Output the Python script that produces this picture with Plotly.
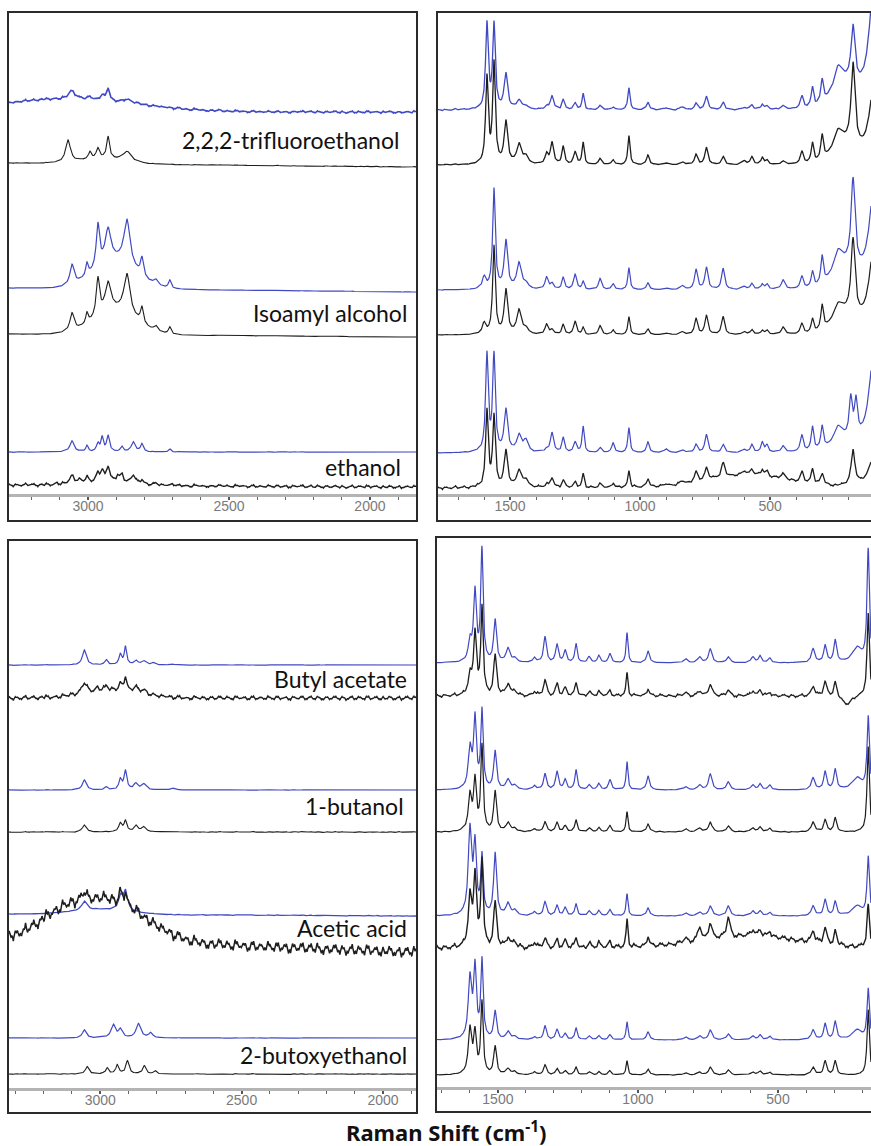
import numpy as np
import plotly.graph_objects as go

FIG_W, FIG_H = 871, 1146
BLUE = "#4149c2"
BLACK = "#1e1e1e"

# ---------------- axis ticks ----------------
LEFT_TICKS = [3000, 2500, 2000]
RIGHT_TICKS = [1500, 1000, 500]

# ---------------- x ranges (Raman shift, cm-1, drawn high -> low) ----------------
TL_RANGE = [3284, 1833]
TR_RANGE = [1781, 112]
BL_RANGE = [3326, 1880]
BR_RANGE = [1721, 168]

# ---------------- sample labels ----------------
TL_LABELS = ["2,2,2-trifluoroethanol", "Isoamyl alcohol", "ethanol"]
BL_LABELS = ["Butyl acetate", "1-butanol", "Acetic acid", "2-butoxyethanol"]

# hand-typed detector-noise texture (relative spike heights, read as "fuzz" on noisy traces)
NOISE_H = [0.6, -1.0, 0.4, -0.6, 1.0, -0.3, 0.8, -0.9, 0.5, 1.0, -0.7, 0.3, -0.8, 0.9, -0.4,
           0.7, -1.0, 0.6, -0.3, 0.9, -0.8, 0.5, -0.6, 1.0, -0.3, 0.7, -0.9, 0.6, -1.0, 0.4,
           -0.5, 0.9, -0.6, 0.3, -0.8, 0.8, -0.4, 0.6, -0.3, 0.5, -0.9, 0.7, -0.5, 0.3, -0.7,
           0.9, -0.3, 0.5, -0.7, 0.4, -0.6, 0.8, -0.4, 0.6, -0.5, 0.8, -0.3, 0.4, -0.8, 0.6,
           -0.6, 0.4, -0.5, 0.8, -0.4, 0.6, -0.6, 0.4, -0.8, 0.6, -0.4, 0.6, -0.6, 0.4, -0.4,
           0.8, -0.6, 0.4, -0.6, 0.6, -0.4, 0.6, -0.8, 0.4, -0.6, 0.6, -0.4, 0.8, -0.6, 0.4,
           -0.6, 0.6, -0.4, 0.4, -0.6, 0.6, -0.4, 0.6, -0.6, 0.4]

# =============== LEFT TOP (C-H stretch region) ===============
# peaks: (shift, height, half-width) ; bands: broad gaussian (shift, height, sigma)
# base: (level at high-shift end, level at low-shift end), stacked offset units
TFE_L_BLUE_BASE = (382, 382)
TFE_L_BLUE_PEAKS = [(3057, 8, 14), (2993, 3, 8), (2950, 5, 8), (2929, 12, 6), (2862, 4, 20)]
TFE_L_BLUE_BANDS = [(3080, 13, 250)]
TFE_L_BLACK_BASE = (331, 327)
TFE_L_BLACK_PEAKS = [(3071, 22, 10), (2993, 7, 6), (2965, 10, 7), (2929, 22, 6), (2862, 10, 18)]
TFE_L_BLACK_BANDS = [(2950, 5, 80)]

ISO_L_BLUE_BASE = (206, 202)
ISO_L_BLUE_PEAKS = [(3057, 20, 9), (3004, 12, 5), (2965, 42, 7), (2929, 32, 12), (2862, 45, 13),
                    (2809, 18, 6), (2759, 5, 8), (2710, 8, 6)]
ISO_L_BLUE_BANDS = [(2905, 28, 75)]
ISO_L_BLACK_BASE = (160, 157)
ISO_L_BLACK_PEAKS = [(3057, 18, 9), (3004, 10, 5), (2965, 37, 7), (2929, 28, 12), (2862, 40, 13),
                     (2809, 16, 6), (2759, 5, 8), (2710, 7, 6)]
ISO_L_BLACK_BANDS = [(2905, 24, 75)]

ETH_L_BLUE_BASE = (42, 42)
ETH_L_BLUE_PEAKS = [(3057, 11, 9), (3004, 6, 5), (2965, 8, 6), (2950, 14, 5), (2929, 16, 6),
                    (2880, 5, 6), (2840, 10, 8), (2809, 8, 6), (2710, 3, 5)]
ETH_L_BLUE_BANDS = []
ETH_L_BLACK_BASE = (9, 7)
ETH_L_BLACK_PEAKS = [(3110, 2, 6), (3057, 8, 10), (3030, 3, 6), (3004, 5, 6), (2965, 8, 7),
                     (2950, 10, 6), (2929, 14, 7), (2895, 6, 6), (2880, 7, 6), (2840, 8, 8),
                     (2809, 4, 6), (2760, 2, 6), (2700, 2, 6)]
ETH_L_BLACK_BANDS = [(2930, 4, 90)]

# =============== RIGHT TOP (fingerprint region) ===============
TR_POS = [1600, 1589, 1562, 1516, 1466, 1440, 1360, 1339, 1296, 1250, 1219, 1154, 1104, 1043,
          970, 900, 838, 785, 745, 681, 600, 570, 530, 512, 450, 378, 337, 300, 239, 190,
          181, 170, 95]
TR_WID = [8, 6, 6, 8, 10, 10, 7, 7, 6, 7, 5, 7, 6, 5,
          6, 8, 8, 7, 7, 7, 8, 6, 6, 6, 8, 7, 6, 6, 18, 7,
          9, 7, 25]
TFE_R_BLUE_H = [0, 85, 84, 35, 9, 4, 3, 14, 10, 6, 16, 4, 3, 22,
                8, 2, 3, 6, 13, 7, 2, 5, 5, 3, 3, 12, 20, 24, 20, 0,
                56, 0, 147]
TFE_R_BLACK_H = [0, 86, 100, 42, 20, 8, 10, 22, 18, 12, 22, 6, 5, 29,
                 10, 2, 3, 10, 17, 8, 4, 8, 7, 4, 3, 12, 20, 25, 16, 0,
                 81, 0, 91]
ISO_R_BLUE_H = [12, 0, 100, 48, 26, 6, 12, 6, 12, 15, 8, 11, 6, 22,
                7, 2, 4, 20, 22, 21, 3, 6, 5, 5, 9, 12, 16, 28, 18, 0,
                87, 0, 118]
ISO_R_BLACK_H = [11, 0, 88, 44, 24, 6, 10, 5, 10, 13, 7, 9, 5, 18,
                 6, 2, 3, 16, 19, 18, 3, 5, 4, 4, 7, 10, 14, 25, 12, 0,
                 75, 0, 103]
ETH_R_BLUE_H = [0, 97, 96, 42, 17, 12, 3, 20, 15, 10, 26, 5, 10, 25,
                11, 4, 3, 8, 18, 8, 3, 8, 10, 7, 6, 16, 24, 23, 15, 38,
                0, 36, 118]
ETH_R_BLACK_H = [0, 76, 70, 36, 17, 8, 3, 10, 8, 5, 14, 4, 5, 17,
                 9, 2, 3, 10, 12, 14, 4, 6, 6, 5, 5, 10, 15, 12, 0, 0,
                 35, 0, 37]
TFE_R_BLUE_BASE = (384, 384)
TFE_R_BLACK_BASE = (329, 329)
ISO_R_BLUE_BASE = (204, 204)
ISO_R_BLACK_BASE = (159, 159)
ETH_R_BLUE_BASE = (41, 41)
ETH_R_BLACK_BASE = (6, 6)
TFE_R_BLUE_BANDS = [(215, 22, 45)]
TFE_R_BLACK_BANDS = [(215, 18, 45)]
ISO_R_BLUE_BANDS = [(215, 20, 45)]
ISO_R_BLACK_BANDS = [(215, 18, 45)]
ETH_R_BLUE_BANDS = [(215, 9, 45)]
ETH_R_BLACK_BANDS = [(590, 13, 160)]

# =============== LEFT BOTTOM ===============
BUA_L_BLUE_BASE = (423, 423)
BUA_L_BLUE_PEAKS = [(3056, 15, 8), (2978, 5, 6), (2929, 10, 6), (2911, 18, 5), (2875, 4, 8),
                    (2847, 4, 10), (2812, 2, 8), (2744, 1, 8)]
BUA_L_BLUE_BANDS = []
BUA_L_BLACK_BASE = (390, 390)
BUA_L_BLACK_PEAKS = [(3056, 10, 10), (3010, 3, 6), (2978, 4, 6), (2929, 6, 6),
                     (2911, 14, 6), (2875, 5, 8), (2847, 4, 10)]
BUA_L_BLACK_BANDS = [(2960, 8, 100)]

BUT_L_BLUE_BASE = (298, 298)
BUT_L_BLUE_PEAKS = [(3056, 10, 8), (2978, 3, 6), (2929, 10, 6), (2911, 19, 6), (2875, 6, 8),
                    (2847, 6, 10), (2744, 2, 8)]
BUT_L_BLUE_BANDS = []
BUT_L_BLACK_BASE = (256, 256)
BUT_L_BLACK_PEAKS = [(3056, 7, 8), (2929, 8, 7), (2911, 11, 6), (2875, 6, 8), (2847, 5, 10)]
BUT_L_BLACK_BANDS = []

ACE_L_BLUE_BASE = (174, 172)
ACE_L_BLUE_PEAKS = [(3056, 9, 10), (2929, 13, 8), (2911, 20, 9)]
ACE_L_BLUE_BANDS = [(3000, 5, 100)]
ACE_L_BLACK_BASE = (150, 136)
ACE_L_BLACK_PEAKS = [(3056, 8, 8), (2929, 10, 6), (2911, 14, 7)]
ACE_L_BLACK_BANDS = [(2985, 42, 140), (3150, 10, 70)]

BOE_L_BLUE_BASE = (50, 50)
BOE_L_BLUE_PEAKS = [(3056, 8, 8), (2954, 13, 9), (2929, 8, 8), (2865, 14, 10), (2822, 5, 8)]
BOE_L_BLUE_BANDS = []
BOE_L_BLACK_BASE = (14, 14)
BOE_L_BLACK_PEAKS = [(3046, 7, 8), (2975, 6, 6), (2940, 9, 6), (2904, 13, 7), (2844, 8, 7),
                     (2805, 3, 6)]
BOE_L_BLACK_BANDS = []

# =============== RIGHT BOTTOM ===============
BR_POS = [1600, 1582, 1557, 1510, 1464, 1440, 1370, 1332, 1289, 1260, 1221, 1175, 1140, 1100,
          1039, 964, 830, 780, 742, 678, 590, 564, 530, 375, 332, 296, 218, 178]
BR_WID = [7, 6, 5, 6, 8, 8, 6, 6, 6, 6, 5, 6, 6, 6,
          4, 6, 8, 7, 7, 7, 7, 6, 6, 7, 6, 6, 20, 5]
BUA_R_BLUE_H = [20, 70, 112, 42, 14, 4, 5, 26, 18, 12, 19, 6, 7, 9,
                30, 12, 4, 6, 14, 6, 6, 7, 5, 14, 17, 22, 15, 112]
BUA_R_BLACK_H = [20, 62, 88, 40, 12, 4, 4, 16, 12, 8, 13, 4, 4, 5,
                 23, 7, 3, 5, 12, 6, 5, 6, 4, 10, 14, 14, 0, 82]
BUT_R_BLUE_H = [40, 70, 78, 38, 10, 4, 4, 16, 18, 10, 20, 5, 6, 10,
                28, 14, 3, 5, 16, 8, 5, 6, 5, 12, 18, 20, 12, 72]
BUT_R_BLACK_H = [35, 50, 85, 40, 9, 3, 3, 10, 9, 6, 12, 4, 4, 6,
                 20, 8, 3, 4, 10, 6, 4, 5, 4, 10, 12, 14, 0, 85]
ACE_R_BLUE_H = [85, 68, 58, 62, 12, 5, 4, 14, 10, 8, 12, 5, 5, 6,
                22, 8, 3, 4, 10, 10, 5, 5, 4, 10, 16, 14, 10, 58]
ACE_R_BLACK_H = [50, 70, 86, 45, 10, 5, 5, 10, 8, 8, 10, 5, 5, 6,
                 28, 10, 4, 14, 16, 20, 6, 6, 6, 12, 16, 14, 0, 42]
BOE_R_BLUE_H = [60, 70, 78, 28, 8, 3, 3, 14, 10, 6, 12, 4, 4, 5,
                18, 8, 3, 4, 10, 6, 4, 5, 4, 10, 16, 18, 10, 50]
BOE_R_BLACK_H = [45, 40, 72, 28, 6, 3, 3, 10, 6, 4, 8, 3, 3, 4,
                 14, 6, 2, 3, 8, 5, 3, 4, 3, 8, 14, 14, 0, 65]
BUA_R_BLUE_BASE = (424, 424)
BUA_R_BLACK_BASE = (391, 391)
BUT_R_BLUE_BASE = (297, 297)
BUT_R_BLACK_BASE = (255, 255)
ACE_R_BLUE_BASE = (171, 171)
ACE_R_BLACK_BASE = (139, 139)
BOE_R_BLUE_BASE = (47, 47)
BOE_R_BLACK_BASE = (12, 12)
BUA_R_BLUE_BANDS = []
BUA_R_BLACK_BANDS = [(255, -8, 18)]
BUT_R_BLUE_BANDS = []
BUT_R_BLACK_BANDS = []
ACE_R_BLUE_BANDS = []
ACE_R_BLACK_BANDS = [(600, 12, 180)]
BOE_R_BLUE_BANDS = []
BOE_R_BLACK_BANDS = []

# noise amplitude per trace (0 = smooth)
TL_NOISE = [1.6, 0.5, 0.3, 0.3, 0.4, 2.0]
TR_NOISE = [1.1, 0.6, 0.4, 0.4, 0.5, 1.8]
BL_NOISE = [0.4, 2.8, 0.3, 0.6, 0.5, 7.5, 0.3, 0.5]
BR_NOISE = [0.5, 2.2, 0.4, 0.8, 0.6, 3.2, 0.4, 0.6]


def grid(rng):
    return np.arange(rng[0], rng[1] - 1, -1.0)


def build(x, base, peaks, bands, noise_amp=0.0):
    t = (x[0] - x) / (x[0] - x[-1])
    y = base[0] + (base[1] - base[0]) * t
    for c, h, w in peaks:
        y = y + h * w * w / ((x - c) ** 2 + w * w)
    for c, h, s in bands:
        y = y + h * np.exp(-0.5 * ((x - c) / s) ** 2)
    if noise_amp:
        npos = np.linspace(x[0] - 4, x[-1] + 4, len(NOISE_H))
        step = npos[1] - npos[0]
        w = abs(step) * 0.12
        spikes = list(zip(npos, NOISE_H)) + \
            [(p + step / 2, -0.8 * h) for p, h in zip(npos, NOISE_H[::-1])]
        for c, h in spikes:
            y = y + noise_amp * h * w * w / ((x - c) ** 2 + w * w)
    return y


def peaks_from(pos, wid, hts):
    return [(p, h, w) for p, w, h in zip(pos, wid, hts) if h != 0]


# panel geometry in pixels: (x0, x1, top, axis_line, bottom)
PANELS = {
    "TL": (8, 417, 12, 494, 521),
    "TR": (437, 871, 12, 494, 521),
    "BL": (8, 417, 540, 1088, 1113),
    "BR": (436, 871, 537, 1087, 1112),
}
AXIS_IDS = {"TL": "", "TR": "2", "BL": "3", "BR": "4"}
RANGES = {"TL": TL_RANGE, "TR": TR_RANGE, "BL": BL_RANGE, "BR": BR_RANGE}

fig = go.Figure()


def add(panel, y_list, colors, widths):
    x = grid(RANGES[panel])
    aid = AXIS_IDS[panel]
    for y, c, w in zip(y_list, colors, widths):
        fig.add_trace(go.Scatter(x=x, y=y, mode="lines", line=dict(color=c, width=w),
                                 xaxis="x" + aid, yaxis="y" + aid, showlegend=False,
                                 hoverinfo="skip"))


xTL = grid(TL_RANGE)
add("TL", [
    build(xTL, TFE_L_BLUE_BASE, TFE_L_BLUE_PEAKS, TFE_L_BLUE_BANDS, TL_NOISE[0]),
    build(xTL, TFE_L_BLACK_BASE, TFE_L_BLACK_PEAKS, TFE_L_BLACK_BANDS, TL_NOISE[1]),
    build(xTL, ISO_L_BLUE_BASE, ISO_L_BLUE_PEAKS, ISO_L_BLUE_BANDS, TL_NOISE[2]),
    build(xTL, ISO_L_BLACK_BASE, ISO_L_BLACK_PEAKS, ISO_L_BLACK_BANDS, TL_NOISE[3]),
    build(xTL, ETH_L_BLUE_BASE, ETH_L_BLUE_PEAKS, ETH_L_BLUE_BANDS, TL_NOISE[4]),
    build(xTL, ETH_L_BLACK_BASE, ETH_L_BLACK_PEAKS, ETH_L_BLACK_BANDS, TL_NOISE[5]),
], [BLUE, BLACK, BLUE, BLACK, BLUE, BLACK], [1.6, 1.1, 1.2, 1.1, 1.2, 1.4])

xTR = grid(TR_RANGE)
add("TR", [
    build(xTR, TFE_R_BLUE_BASE, peaks_from(TR_POS, TR_WID, TFE_R_BLUE_H), TFE_R_BLUE_BANDS,
          TR_NOISE[0]),
    build(xTR, TFE_R_BLACK_BASE, peaks_from(TR_POS, TR_WID, TFE_R_BLACK_H), TFE_R_BLACK_BANDS,
          TR_NOISE[1]),
    build(xTR, ISO_R_BLUE_BASE, peaks_from(TR_POS, TR_WID, ISO_R_BLUE_H), ISO_R_BLUE_BANDS,
          TR_NOISE[2]),
    build(xTR, ISO_R_BLACK_BASE, peaks_from(TR_POS, TR_WID, ISO_R_BLACK_H), ISO_R_BLACK_BANDS,
          TR_NOISE[3]),
    build(xTR, ETH_R_BLUE_BASE, peaks_from(TR_POS, TR_WID, ETH_R_BLUE_H), ETH_R_BLUE_BANDS,
          TR_NOISE[4]),
    build(xTR, ETH_R_BLACK_BASE, peaks_from(TR_POS, TR_WID, ETH_R_BLACK_H), ETH_R_BLACK_BANDS,
          TR_NOISE[5]),
], [BLUE, BLACK, BLUE, BLACK, BLUE, BLACK], [1.3, 1.3, 1.2, 1.2, 1.2, 1.3])

xBL = grid(BL_RANGE)
add("BL", [
    build(xBL, BUA_L_BLUE_BASE, BUA_L_BLUE_PEAKS, BUA_L_BLUE_BANDS, BL_NOISE[0]),
    build(xBL, BUA_L_BLACK_BASE, BUA_L_BLACK_PEAKS, BUA_L_BLACK_BANDS, BL_NOISE[1]),
    build(xBL, BUT_L_BLUE_BASE, BUT_L_BLUE_PEAKS, BUT_L_BLUE_BANDS, BL_NOISE[2]),
    build(xBL, BUT_L_BLACK_BASE, BUT_L_BLACK_PEAKS, BUT_L_BLACK_BANDS, BL_NOISE[3]),
    build(xBL, ACE_L_BLUE_BASE, ACE_L_BLUE_PEAKS, ACE_L_BLUE_BANDS, BL_NOISE[4]),
    build(xBL, ACE_L_BLACK_BASE, ACE_L_BLACK_PEAKS, ACE_L_BLACK_BANDS, BL_NOISE[5]),
    build(xBL, BOE_L_BLUE_BASE, BOE_L_BLUE_PEAKS, BOE_L_BLUE_BANDS, BL_NOISE[6]),
    build(xBL, BOE_L_BLACK_BASE, BOE_L_BLACK_PEAKS, BOE_L_BLACK_BANDS, BL_NOISE[7]),
], [BLUE, BLACK] * 4, [1.2, 1.4, 1.2, 1.1, 1.3, 1.5, 1.2, 1.1])

xBR = grid(BR_RANGE)
add("BR", [
    build(xBR, BUA_R_BLUE_BASE, peaks_from(BR_POS, BR_WID, BUA_R_BLUE_H), BUA_R_BLUE_BANDS,
          BR_NOISE[0]),
    build(xBR, BUA_R_BLACK_BASE, peaks_from(BR_POS, BR_WID, BUA_R_BLACK_H), BUA_R_BLACK_BANDS,
          BR_NOISE[1]),
    build(xBR, BUT_R_BLUE_BASE, peaks_from(BR_POS, BR_WID, BUT_R_BLUE_H), BUT_R_BLUE_BANDS,
          BR_NOISE[2]),
    build(xBR, BUT_R_BLACK_BASE, peaks_from(BR_POS, BR_WID, BUT_R_BLACK_H), BUT_R_BLACK_BANDS,
          BR_NOISE[3]),
    build(xBR, ACE_R_BLUE_BASE, peaks_from(BR_POS, BR_WID, ACE_R_BLUE_H), ACE_R_BLUE_BANDS,
          BR_NOISE[4]),
    build(xBR, ACE_R_BLACK_BASE, peaks_from(BR_POS, BR_WID, ACE_R_BLACK_H), ACE_R_BLACK_BANDS,
          BR_NOISE[5]),
    build(xBR, BOE_R_BLUE_BASE, peaks_from(BR_POS, BR_WID, BOE_R_BLUE_H), BOE_R_BLUE_BANDS,
          BR_NOISE[6]),
    build(xBR, BOE_R_BLACK_BASE, peaks_from(BR_POS, BR_WID, BOE_R_BLACK_H), BOE_R_BLACK_BANDS,
          BR_NOISE[7]),
], [BLUE, BLACK] * 4, [1.2, 1.3, 1.2, 1.2, 1.2, 1.4, 1.2, 1.2])

# ---------------- layout ----------------
layout = dict(width=FIG_W, height=FIG_H, margin=dict(l=0, r=0, t=0, b=0),
              paper_bgcolor="white", plot_bgcolor="rgba(0,0,0,0)")
shapes = []
for key, (x0, x1, top, axis_y, bottom) in PANELS.items():
    aid = AXIS_IDS[key]
    ticks = LEFT_TICKS if key in ("TL", "BL") else RIGHT_TICKS
    layout["xaxis" + aid] = dict(
        domain=[x0 / FIG_W, min(x1 / FIG_W, 1.0)], range=RANGES[key], anchor="y" + aid,
        showline=True, linecolor="#b4b4b4", linewidth=2.5, showgrid=False, zeroline=False,
        tickmode="array", tickvals=ticks, ticks="outside", ticklen=3, tickwidth=1.5,
        tickcolor="#555555", ticklabelstandoff=-6,
        minor=dict(dtick=100, tick0=0, ticks="outside", ticklen=3, tickwidth=1.2,
                   tickcolor="#666666", showgrid=False),
        tickfont=dict(family="Liberation Sans", size=14, color="#7a7a7a"),
        fixedrange=True)
    layout["yaxis" + aid] = dict(
        domain=[1 - axis_y / FIG_H, 1 - top / FIG_H], range=[0, axis_y - top],
        anchor="x" + aid, visible=False, fixedrange=True)
    shapes.append(dict(type="rect", xref="paper", yref="paper",
                       x0=x0 / FIG_W, x1=(x1 + (12 if x1 >= 871 else 0)) / FIG_W,
                       y0=1 - bottom / FIG_H, y1=1 - top / FIG_H,
                       line=dict(color="#2b2b2b", width=2), fillcolor="rgba(0,0,0,0)"))
layout["shapes"] = shapes

annotations = []
TL_LABEL_POS = [(1890, 354), (1862, 181), (1883, 27)]
BL_LABEL_POS = [(1908, 409), (1918, 282), (1908, 160), (1908, 33)]
for txt, (xv, yv) in zip(TL_LABELS, TL_LABEL_POS):
    annotations.append(dict(text=txt, x=xv, y=yv, xref="x", yref="y", xanchor="right",
                            yanchor="middle", showarrow=False,
                            font=dict(family="Lato", size=23, color="#111111")))
for txt, (xv, yv) in zip(BL_LABELS, BL_LABEL_POS):
    annotations.append(dict(text=txt, x=xv, y=yv, xref="x3", yref="y3", xanchor="right",
                            yanchor="middle", showarrow=False,
                            font=dict(family="Lato", size=23, color="#111111")))
annotations.append(dict(text="<b>Raman Shift (cm<sup>-1</sup>)</b>", x=446 / FIG_W,
                        y=1 - 1131 / FIG_H, xref="paper", yref="paper", xanchor="center",
                        yanchor="middle", showarrow=False,
                        font=dict(family="Noto Sans", size=22, color="#111111")))
layout["annotations"] = annotations

fig.update_layout(**layout)
fig.write_html("out.html", config={"displayModeBar": False},
               post_script="document.body.style.margin='0px';"
                           "document.body.style.overflow='hidden';")
